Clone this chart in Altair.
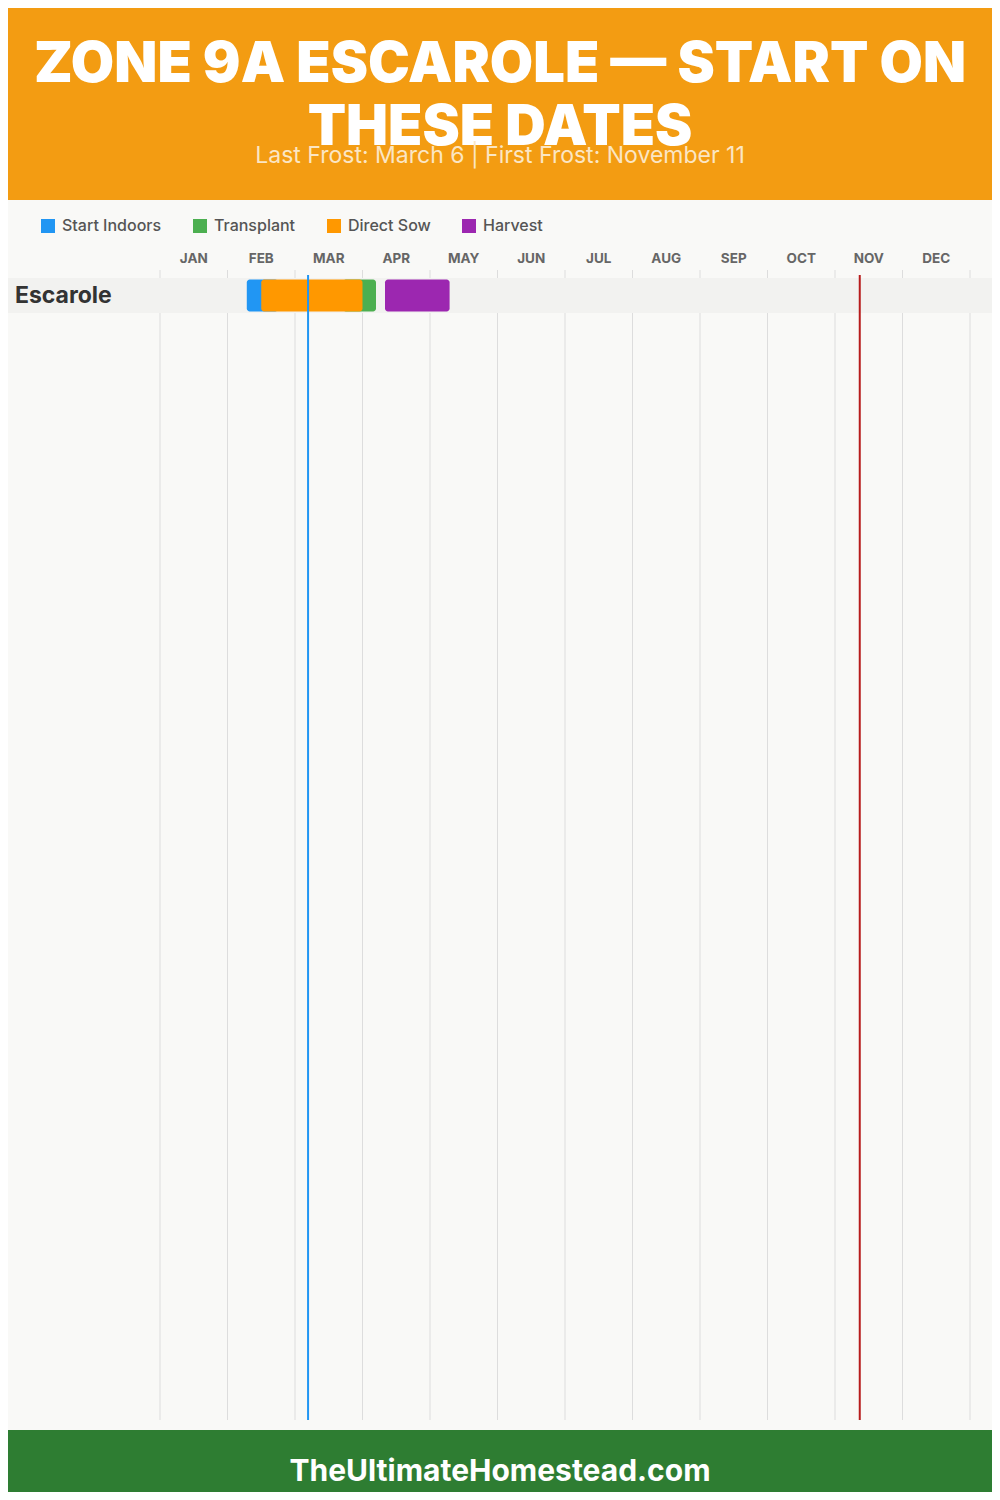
import altair as alt
import pandas as pd
import calendar

# ---------------- data ----------------
crop = "Escarole"
phases = ["Start Indoors", "Transplant", "Direct Sow", "Harvest"]
phase_colors = ["#2196F3", "#4CAF50", "#FF9800", "#9C27B0"]
phase_start = [(2, 8), (3, 22), (2, 14), (4, 10)]
phase_end = [(2, 21), (4, 6), (3, 31), (5, 9)]
months = ["JAN", "FEB", "MAR", "APR", "MAY", "JUN", "JUL", "AUG", "SEP", "OCT", "NOV", "DEC"]
frost_names = ["Last Frost", "First Frost"]
frost_dates = [(3, 6), (11, 11)]
frost_colors = ["#2196F3", "#B71C1C"]
title_lines = ["ZONE 9A ESCAROLE — START ON", "THESE DATES"]
subtitle = "Last Frost: March 6 | First Frost: November 11"
footer = "TheUltimateHomestead.com"


def mpos(md):
    m, d = md
    return (m - 1) + d / calendar.monthrange(2023, m)[1]


bars = pd.DataFrame({
    "crop": [crop] * len(phases),
    "phase": phases,
    "start": [mpos(s) for s in phase_start],
    "end": [mpos(e) for e in phase_end],
})
month_df = pd.DataFrame({"label": months, "mid": [i + 0.5 for i in range(12)]})
grid_df = pd.DataFrame({"pos": list(range(13))})
frost_df = pd.DataFrame({"name": frost_names, "pos": [mpos(f) for f in frost_dates], "color": frost_colors})
one = pd.DataFrame({"k": [0]})

# ---------------- layout ----------------
W, H = 984, 1484
OFF = 8
px0 = 160 - OFF
mw = 67.5
d0 = -px0 / mw
d1 = (W - px0) / mw
xs = alt.Scale(domain=[d0, d1], nice=False, zero=False)
ys = alt.Scale(domain=[crop], range=[278 - OFF, 313 - OFF], paddingInner=0, paddingOuter=0.05)
FONT = "Inter"
CX = 500 - OFF

grid = alt.Chart(grid_df).mark_rule(color="#dddddd", strokeWidth=1).encode(
    x=alt.X("pos:Q", scale=xs, axis=None),
    y=alt.value(270 - OFF), y2=alt.value(1420 - OFF))

rowband = alt.Chart(one).mark_rect(color="#f2f2f0").encode(
    x=alt.value(0), x2=alt.value(W), y=alt.value(278 - OFF), y2=alt.value(313 - OFF))

bar = alt.Chart(bars).mark_bar(cornerRadius=3).encode(
    x=alt.X("start:Q", scale=xs, axis=None),
    x2="end:Q",
    y=alt.Y("crop:N", scale=ys, axis=None),
    color=alt.Color("phase:N", scale=alt.Scale(domain=phases, range=phase_colors),
                    legend=alt.Legend(orient="none", legendX=40 - OFF, legendY=218 - OFF,
                                      direction="horizontal", title=None,
                                      symbolType="square", symbolSize=196, symbolStrokeWidth=0,
                                      symbolOpacity=1, labelFont=FONT, labelFontSize=16,
                                      labelColor="#555555", labelFontWeight=500,
                                      labelOffset=6, columnPadding=30, columns=4)),
    order=alt.Order("idx:Q"),
).transform_calculate(idx="indexof(['Start Indoors','Transplant','Direct Sow','Harvest'], datum.phase)")

rowlabel = alt.Chart(pd.DataFrame({"crop": [crop]})).mark_text(
    align="left", baseline="middle", font=FONT, fontSize=23, fontWeight="bold", color="#333333").encode(
    x=alt.value(15 - OFF), y=alt.Y("crop:N", scale=ys, axis=None, bandPosition=0.5), text="crop:N")

mlabels = alt.Chart(month_df).mark_text(
    align="center", baseline="middle", font=FONT, fontSize=13.5, fontWeight="bold", color="#666666").encode(
    x=alt.X("mid:Q", scale=xs, axis=None), y=alt.value(259 - OFF), text="label:N")

frost = alt.Chart(frost_df).mark_rule(strokeWidth=2).encode(
    x=alt.X("pos:Q", scale=xs, axis=None),
    y=alt.value(275 - OFF), y2=alt.value(1420 - OFF),
    color=alt.Color("color:N", scale=None))

header = alt.Chart(one).mark_rect(color="#F39C12").encode(
    x=alt.value(0), x2=alt.value(W), y=alt.value(0), y2=alt.value(200 - OFF))

t1 = alt.Chart(one).mark_text(align="center", baseline="alphabetic", font=FONT, fontSize=56,
                              fontWeight=900, color="white").encode(
    x=alt.value(CX), y=alt.value(82 - OFF), text=alt.value(title_lines[0]))
t2 = alt.Chart(one).mark_text(align="center", baseline="alphabetic", font=FONT, fontSize=56,
                              fontWeight=900, color="white").encode(
    x=alt.value(CX), y=alt.value(145 - OFF), text=alt.value(title_lines[1]))
sub = alt.Chart(one).mark_text(align="center", baseline="middle", font=FONT, fontSize=23,
                               color="#fbe6c4").encode(
    x=alt.value(CX), y=alt.value(156 - OFF), text=alt.value(subtitle))

foot = alt.Chart(one).mark_rect(color="#2E7D32").encode(
    x=alt.value(0), x2=alt.value(W), y=alt.value(1430 - OFF), y2=alt.value(H))
foottext = alt.Chart(one).mark_text(align="center", baseline="middle", font=FONT, fontSize=30,
                                    fontWeight="bold", color="white").encode(
    x=alt.value(CX), y=alt.value(1472 - OFF), text=alt.value(footer))

chart = alt.layer(grid, rowband, bar, frost, rowlabel, mlabels, header, t1, t2, sub, foot, foottext).properties(
    width=W, height=H, padding=0, autosize=alt.AutoSizeParams(type="none"),
    background="#f9f9f7",
).configure_view(stroke=None)

chart.save("out.html", embed_options={"renderer": "svg", "actions": False})
